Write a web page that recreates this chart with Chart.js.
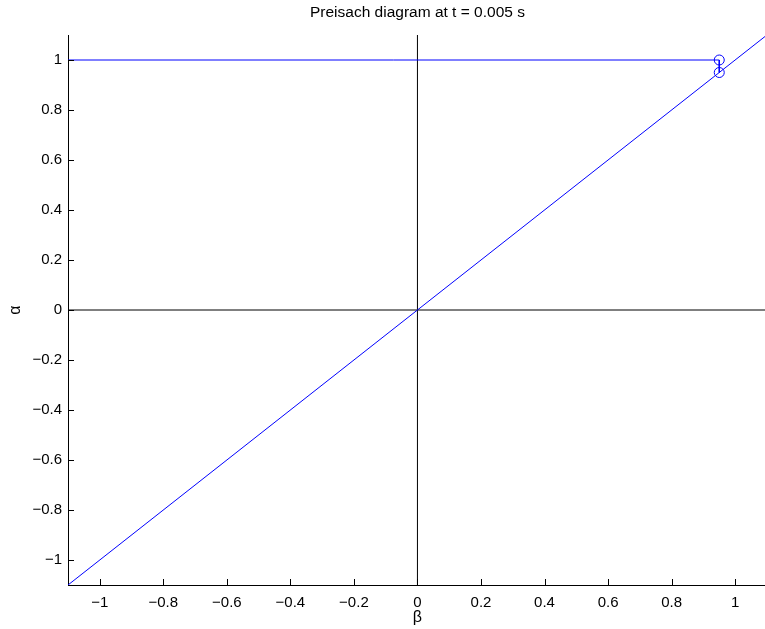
<!DOCTYPE html>
<html>
<head>
<meta charset="utf-8">
<script src="https://cdn.jsdelivr.net/npm/chart.js@4"></script>
<style>
  body { margin: 0; background: #fff; }
  #wrap { width: 765px; height: 629px; }
</style>
</head>
<body>
<div id="wrap"><canvas id="chart" width="765" height="629"></canvas></div>
<script>
// Data
const titleText = "Preisach diagram at t = 0.005 s";
const xTicks = [-1, -0.8, -0.6, -0.4, -0.2, 0, 0.2, 0.4, 0.6, 0.8, 1];
const yTicks = [-1, -0.8, -0.6, -0.4, -0.2, 0, 0.2, 0.4, 0.6, 0.8, 1];

// staircase (memory curve)
const stairBeta = [-1.1, 0.95, 0.95];
const stairAlpha = [1, 1, 0.95];
// corner markers
const cornerBeta = [0.95, 0.95];
const cornerAlpha = [1, 0.95];
// diagonal alpha = beta
const diagBeta = [-1.1, 1.1];
const diagAlpha = [-1.1, 1.1];
// zero axis lines
const hzBeta = [-1.1, 1.1];
const hzAlpha = [0, 0];
const vzBeta = [0, 0];
const vzAlpha = [-1.1, 1.1];

const blue = "#0000ff";
const font = "Liberation Sans, Arial, Helvetica, sans-serif";

function pts(xs, ys) {
  return xs.map((x, i) => ({ x: x, y: ys[i] }));
}

function fmt(v) {
  const s = String(Math.round(v * 10) / 10);
  return s.replace("-", "\u2212");
}

// inward tick marks + text labels
const decorations = {
  id: "decorations",
  afterDraw(chart) {
    const ctx = chart.ctx;
    const area = chart.chartArea;
    const xs = chart.scales.x, ys = chart.scales.y;
    ctx.save();
    ctx.strokeStyle = "#000";
    ctx.lineWidth = 1;
    ctx.beginPath();
    xTicks.forEach(v => {
      const px = Math.round(xs.getPixelForValue(v)) + 0.5;
      ctx.moveTo(px, area.bottom);
      ctx.lineTo(px, area.bottom - 6);
    });
    yTicks.forEach(v => {
      const py = Math.round(ys.getPixelForValue(v)) + 0.5;
      ctx.moveTo(area.left, py);
      ctx.lineTo(area.left + 6, py);
    });
    ctx.stroke();

    ctx.fillStyle = "#000";
    ctx.font = "15.5px " + font;
    ctx.textAlign = "center";
    ctx.textBaseline = "middle";
    ctx.fillText(titleText, (area.left + xs.getPixelForValue(1.1)) / 2, 13);
    ctx.font = "16px " + font;
    ctx.fillText("\u03b2", xs.getPixelForValue(0), 618);
    ctx.save();
    ctx.translate(16, ys.getPixelForValue(0));
    ctx.rotate(-Math.PI / 2);
    ctx.fillText("\u03b1", 0, 0);
    ctx.restore();
    ctx.restore();
  }
};

new Chart(document.getElementById("chart"), {
  type: "scatter",
  data: {
    datasets: [
      { data: pts(stairBeta, stairAlpha), showLine: true, borderColor: blue, borderWidth: 1, pointRadius: 0 },
      { data: pts(cornerBeta, cornerAlpha), showLine: false, pointRadius: 5, pointBorderColor: blue, pointBackgroundColor: "rgba(0,0,0,0)", pointBorderWidth: 1 },
      { data: pts(diagBeta, diagAlpha), showLine: true, borderColor: blue, borderWidth: 1, pointRadius: 0 },
      { data: pts(hzBeta, hzAlpha), showLine: true, borderColor: "#000", borderWidth: 1, pointRadius: 0 },
      { data: pts(vzBeta, vzAlpha), showLine: true, borderColor: "#000", borderWidth: 1, pointRadius: 0 }
    ]
  },
  options: {
    responsive: false,
    animation: false,
    layout: { autoPadding: false, padding: { top: 35, right: 0, left: 0, bottom: 0 } },
    plugins: { legend: { display: false }, tooltip: { enabled: false }, title: { display: false } },
    scales: {
      x: {
        type: "linear",
        min: -1.1,
        max: 1.094,
        grid: { display: false, drawTicks: false },
        border: { display: true, color: "#000", width: 1 },
        afterBuildTicks: s => { s.ticks = xTicks.map(v => ({ value: v })); },
        afterFit: s => { s.height = 44; s.paddingLeft = 0; s.paddingRight = 0; },
        ticks: { padding: 9, color: "#000", font: { family: font, size: 15 }, maxRotation: 0, callback: v => fmt(v) }
      },
      y: {
        type: "linear",
        min: -1.1,
        max: 1.1,
        grid: { display: false, drawTicks: false },
        border: { display: true, color: "#000", width: 1 },
        afterBuildTicks: s => { s.ticks = yTicks.map(v => ({ value: v })); },
        afterFit: s => { s.width = 68; s.paddingTop = 0; s.paddingBottom = 0; },
        ticks: { padding: 6, color: "#000", font: { family: font, size: 15 }, callback: v => fmt(v) }
      }
    }
  },
  plugins: [decorations]
});
</script>
</body>
</html>
